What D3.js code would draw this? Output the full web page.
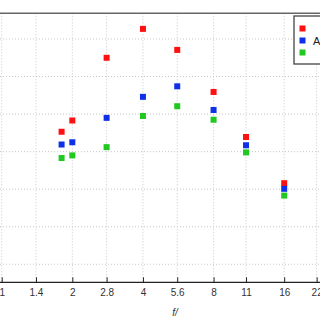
<!DOCTYPE html>
<html>
<head>
<meta charset="utf-8">
<script src="https://cdn.jsdelivr.net/npm/d3@7"></script>
<style>
  body { margin: 0; background: #fff; }
  svg { display: block; font-family: "Liberation Sans", Arial, sans-serif; }
</style>
</head>
<body>
<div id="chart"></div>
<script>
// f-stop values of the measured points
var fStops = [1.8, 2, 2.8, 4, 5.6, 8, 11, 16];
// three series (red, blue, green)
var redVals = [3.53, 3.83, 5.50, 6.27, 5.71, 4.59, 3.39, 2.16];
var blueVals = [3.19, 3.25, 3.90, 4.46, 4.74, 4.11, 3.17, 2.01];
var greenVals = [2.83, 2.90, 3.12, 3.95, 4.21, 3.85, 2.98, 1.83];
// x tick labels
var xTicks = [1, 1.4, 2, 2.8, 4, 5.6, 8, 11, 16, 22];
var yTicks = [0, 1, 2, 3, 4, 5, 6];
var seriesNames = ["", "A", ""];
var seriesColors = ["#ff1010", "#1030e8", "#20c820"];

var width = 320, height = 320;
var yMin = -0.48, yMax = 6.685;

var svg = d3.select("#chart").append("svg")
    .attr("width", width)
    .attr("height", height);

// log x scale (x = 1 sits at the very left edge, the rest is cropped)
var x = d3.scaleLog().base(2)
    .domain([1, 16])
    .range([1.7, 284.2]);

var y = d3.scaleLinear()
    .domain([yMin, yMax])
    .range([282.3, 13.3]);

// grid
svg.append("g").selectAll("line")
    .data(xTicks)
    .enter().append("line")
    .attr("x1", d => x(d)).attr("x2", d => x(d))
    .attr("y1", y(yMax)).attr("y2", y(yMin))
    .attr("stroke", "#c8c8c8")
    .attr("stroke-width", 1)
    .attr("stroke-dasharray", "1,2");

svg.append("g").selectAll("line")
    .data(yTicks)
    .enter().append("line")
    .attr("x1", 0).attr("x2", width)
    .attr("y1", d => y(d)).attr("y2", d => y(d))
    .attr("stroke", "#c8c8c8")
    .attr("stroke-width", 1)
    .attr("stroke-dasharray", "1,2");

// top border
svg.append("line")
    .attr("x1", 0).attr("x2", width)
    .attr("y1", y(yMax)).attr("y2", y(yMax))
    .attr("stroke", "#666")
    .attr("stroke-width", 1.5);

// bottom axis, ticks point inward
var xAxis = d3.axisBottom(x)
    .tickValues(xTicks)
    .tickFormat(d => d)
    .tickSizeInner(-5)
    .tickSizeOuter(0)
    .tickPadding(7);

var axisG = svg.append("g")
    .attr("transform", `translate(0, ${y(yMin)})`)
    .call(xAxis);
axisG.select(".domain")
    .attr("d", `M0,0H${width}`)
    .attr("stroke", "#222")
    .attr("stroke-width", 1.2);
axisG.selectAll(".tick line").attr("stroke", "#222");
axisG.selectAll(".tick text")
    .attr("fill", "#333")
    .style("font-size", "10px");

svg.append("text")
    .attr("x", 175)
    .attr("y", 315.5)
    .attr("text-anchor", "middle")
    .attr("fill", "#333")
    .style("font-size", "10px")
    .style("font-style", "italic")
    .text("f/");

// points
var allSeries = [redVals, blueVals, greenVals];
var ms = 6;
allSeries.forEach(function(vals, k) {
    svg.append("g").selectAll("rect")
        .data(vals)
        .enter().append("rect")
        .attr("x", (d, i) => x(fStops[i]) - ms / 2)
        .attr("y", d => y(d) - ms / 2)
        .attr("width", ms)
        .attr("height", ms)
        .attr("fill", seriesColors[k]);
});

// legend (cut off at right edge)
var legend = svg.append("g").attr("transform", "translate(294, 16)");
legend.append("rect")
    .attr("width", 40).attr("height", 48)
    .attr("fill", "#fff")
    .attr("stroke", "#444")
    .attr("stroke-width", 1.3);
seriesColors.forEach(function(c, k) {
    legend.append("rect")
        .attr("x", 8 - ms / 2 + 0.5)
        .attr("y", 12.5 + k * 12 - ms / 2)
        .attr("width", ms).attr("height", ms)
        .attr("fill", c);
    legend.append("text")
        .attr("x", 19)
        .attr("y", 12.5 + k * 12 + 4)
        .attr("fill", "#222")
        .style("font-size", "11px")
        .text(seriesNames[k]);
});
</script>
</body>
</html>
